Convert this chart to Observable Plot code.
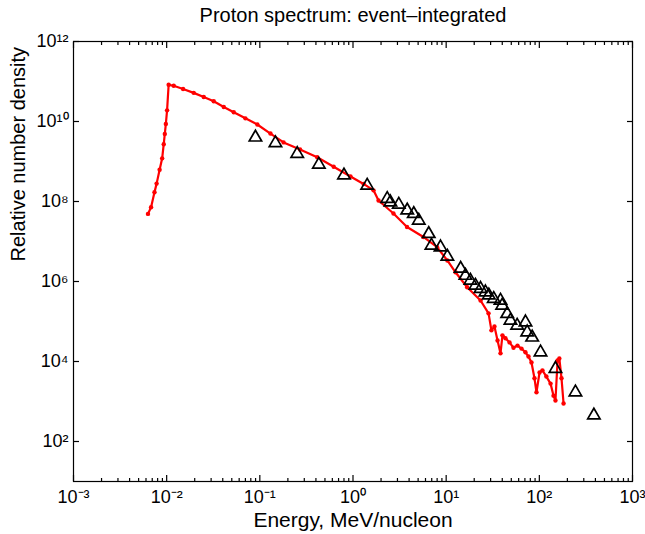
<!DOCTYPE html>
<html>
<head>
<meta charset="utf-8">
<script src="https://cdn.jsdelivr.net/npm/d3@7"></script>
<script src="https://cdn.jsdelivr.net/npm/@observablehq/plot@0.6"></script>
<style>
  html, body { margin: 0; padding: 0; background: #fff; }
  #chart svg { display: block; }
</style>
</head>
<body>
<div id="chart"></div>
<script>
// Red model curve: energy (MeV/nucleon) and relative number density
const energyRed = [6.3e-3, 6.8e-3, 7.4e-3, 7.8e-3, 8.4e-3, 8.95e-3, 9.3e-3, 9.55e-3, 9.8e-3, 1.01e-2, 1.05e-2,
  1.19e-2, 1.5e-2, 1.95e-2, 2.5e-2, 3.2e-2, 4.1e-2, 5.25e-2, 7.0e-2, 9.4e-2,
  0.13, 0.18, 0.27, 0.413, 0.62, 0.94, 1.3, 1.66, 1.88,
  2.72, 3.8, 5.7, 8.0, 10.3, 12.6, 16.8, 23.4,
  28.5, 30.6, 33.0, 35.6, 38.3, 40.2, 43.3, 47.9, 52.8, 58.3, 64.3, 71.0, 76.5, 82.4, 88.7, 93.2,
  100.5, 108, 119, 132, 142, 149, 157, 164, 173, 182];
const densityRed = [4.9e7, 7.2e7, 1.7e8, 2.8e8, 6.2e8, 1.2e9, 2.7e9, 4.9e9, 8.7e9, 1.9e10, 8.3e10,
  7.8e10, 6.5e10, 5.2e10, 4.1e10, 3.2e10, 2.3e10, 1.7e10, 1.2e10, 8.4e9,
  5.0e9, 3.0e9, 2.0e9, 1.28e9, 7.4e8, 4.2e8, 2.75e8, 1.9e8, 1.06e8,
  5.0e7, 2.3e7, 1.3e7, 7.2e6, 3.35e6, 1.7e6, 7.2e5, 3.35e5,
  1.6e5, 6.0e4, 7.5e4, 3.35e4, 1.6e4, 4.5e4, 3.8e4, 3.0e4, 2.2e4, 2.5e4, 2.1e4, 1.7e4, 1.33e4, 9.4e3, 3.8e3, 1.7e3,
  5.3e3, 6.0e3, 4.2e3, 2.8e3, 1.4e3, 1.06e3, 1.06e4, 1.19e4, 3.8e3, 8.9e2];

// Observed spectrum (triangles)
const energyObs = [0.0897, 0.147, 0.252, 0.43, 0.80, 1.42, 2.33, 2.52, 3.10, 3.82, 4.49, 5.08, 6.5, 6.95, 8.7,
  10.3, 14.3, 16.1, 18.2, 20.6, 23.4, 26.4, 28.7, 32.4, 38.3, 39.9, 45.2, 49.0, 57.8, 71.0, 74.1, 83.8,
  103, 149, 244, 385];
const densityObs = [4.0e9, 2.9e9, 1.56e9, 8.4e8, 4.5e8, 2.5e8, 1.17e8, 9.6e7, 8.4e7, 6.0e7, 4.9e7, 3.35e7, 1.55e7, 7.9e6, 7.2e6,
  4.2e6, 2.1e6, 1.4e6, 1.06e6, 7.9e5, 6.6e5, 5.4e5, 4.5e5, 3.7e5, 3.35e5, 2.5e5, 1.55e5, 1.06e5, 7.9e4, 9.6e4, 5.4e4, 4.0e4,
  1.7e4, 6.6e3, 1.7e3, 4.5e2];

// Tick values and labels
const xTicks = [1e-3, 1e-2, 1e-1, 1e0, 1e1, 1e2, 1e3];
const xTickLabels = ["10\u207B\u00B3", "10\u207B\u00B2", "10\u207B\u00B9", "10\u2070", "10\u00B9", "10\u00B2", "10\u00B3"];
const yTicks = [1e2, 1e4, 1e6, 1e8, 1e10, 1e12];
const yTickLabels = ["10\u00B2", "10\u2074", "10\u2076", "10\u2078", "10\u00B9\u2070", "10\u00B9\u00B2"];
const xMinorTicks = [];
for (let d = -3; d <= 2; d++) for (let k = 2; k <= 9; k++) xMinorTicks.push(k * Math.pow(10, d));

const title = "Proton spectrum: event\u2013integrated";
const xLabel = "Energy, MeV/nucleon";
const yLabel = "Relative number density";

const red = energyRed.map((e, i) => ({e, n: densityRed[i]}));
const obs = energyObs.map((e, i) => ({e, n: densityObs[i]}));

const fmtX = v => xTickLabels[xTicks.indexOf(v)];
const fmtY = v => yTickLabels[yTicks.indexOf(v)];
const blank = () => "";

const plot = Plot.plot({
  width: 645,
  height: 534,
  marginLeft: 73,
  marginRight: 13,
  marginTop: 41,
  marginBottom: 53,
  style: {fontFamily: "'Liberation Sans', Arial, Helvetica, sans-serif", fontSize: "17px", color: "black", background: "white"},
  x: {type: "log", domain: [1e-3, 1e3]},
  y: {type: "log", domain: [1e1, 1e12]},
  marks: [
    Plot.frame({stroke: "black", strokeWidth: 1.2}),
    // inward ticks
    Plot.axisX({anchor: "bottom", ticks: xTicks, tickSize: -6, tickFormat: blank, label: null, strokeWidth: 1.2}),
    Plot.axisX({anchor: "top", ticks: xTicks, tickSize: -6, tickFormat: blank, label: null, strokeWidth: 1.2}),
    Plot.axisX({anchor: "bottom", ticks: xMinorTicks, tickSize: -3, tickFormat: blank, label: null, strokeWidth: 1.2}),
    Plot.axisX({anchor: "top", ticks: xMinorTicks, tickSize: -3, tickFormat: blank, label: null, strokeWidth: 1.2}),
    Plot.axisY({anchor: "left", ticks: yTicks, tickSize: -6, tickFormat: blank, label: null, strokeWidth: 1.2}),
    Plot.axisY({anchor: "right", ticks: yTicks, tickSize: -6, tickFormat: blank, label: null, strokeWidth: 1.2}),
    // tick labels
    Plot.axisX({anchor: "bottom", ticks: xTicks, tickSize: 0, tickPadding: 9, tickFormat: fmtX, label: null, fontSize: 18}),
    Plot.axisY({anchor: "left", ticks: yTicks, tickSize: 0, tickPadding: 5, tickFormat: fmtY, label: null, fontSize: 18}),
    // data
    Plot.line(red, {x: "e", y: "n", stroke: "#ff0000", strokeWidth: 2.2}),
    Plot.dot(red, {x: "e", y: "n", r: 2.2, fill: "#ff0000", stroke: null}),
    Plot.dot(obs, {x: "e", y: "n", symbol: "triangle", r: 4.6, stroke: "black", strokeWidth: 1.7, fill: "none"}),
    // titles
    Plot.text([title], {frameAnchor: "top", dy: -26, fontSize: 20, text: d => d, lineAnchor: "middle"}),
    Plot.text([xLabel], {frameAnchor: "bottom", dy: 39, fontSize: 21, text: d => d, lineAnchor: "middle"}),
    Plot.text([yLabel], {frameAnchor: "left", dx: -55, rotate: -90, fontSize: 20, text: d => d, lineAnchor: "middle"})
  ]
});
document.getElementById("chart").appendChild(plot);
</script>
</body>
</html>
